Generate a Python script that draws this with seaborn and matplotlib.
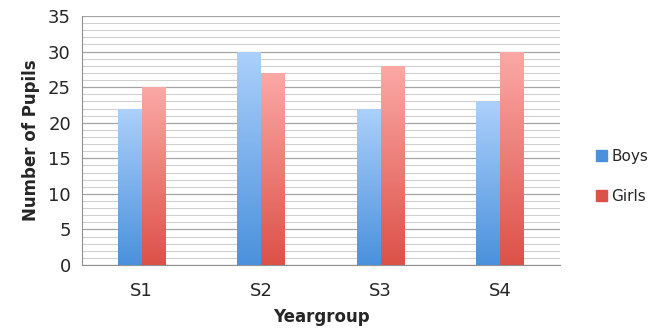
import matplotlib
matplotlib.use('Agg')
import matplotlib.pyplot as plt
import matplotlib.colors as mcolors
import matplotlib.patches as mpatches
import seaborn as sns
import pandas as pd
import numpy as np

# chart data
yeargroups = ['S1', 'S2', 'S3', 'S4']
boys = [22, 30, 22, 23]
girls = [25, 27, 28, 30]
y_ticks = [0, 5, 10, 15, 20, 25, 30, 35]

df = pd.DataFrame({'Yeargroup': yeargroups * 2,
                   'Pupils': boys + girls,
                   'Sex': ['Boys'] * len(boys) + ['Girls'] * len(girls)})

# gradient colours (top, bottom) per series
grad = {'Boys': ('#acd0fb', '#4a91dc'), 'Girls': ('#fba9a6', '#dc5148')}

sns.set_style('white')
fig = plt.figure(figsize=(6.58, 3.36), dpi=100)
ax = fig.add_axes([0.1246, 0.2113, 0.7264, 0.741])

sns.barplot(data=df, x='Yeargroup', y='Pupils', hue='Sex', order=yeargroups,
            hue_order=['Boys', 'Girls'], palette=[grad['Boys'][1], grad['Girls'][1]],
            width=0.40, ax=ax, legend=False, zorder=3)

ax.set_ylim(0, 35)
ax.set_yticks(y_ticks)
ax.set_yticks(np.arange(0, 36, 1), minor=True)
ax.yaxis.grid(True, which='major', color='#a4a4a4', lw=0.9, zorder=0)
ax.yaxis.grid(True, which='minor', color='#d0d0d0', lw=0.8, zorder=0)
ax.set_axisbelow(True)

# paint a vertical gradient on each bar
for cont, name in zip(ax.containers, ['Boys', 'Girls']):
    cmap = mcolors.LinearSegmentedColormap.from_list(name, [grad[name][1], grad[name][0]])
    for p in cont.patches:
        x0, y0 = p.get_x(), p.get_y()
        w, h = p.get_width(), p.get_height()
        img = ax.imshow(np.linspace(0, 1, 256).reshape(-1, 1), cmap=cmap, aspect='auto',
                        origin='lower', extent=[x0, x0 + w, y0, y0 + h], zorder=4)
        img.set_clip_path(p)
        p.set_alpha(0)

ax.set_xlim(-0.5, 3.5)
ax.set_ylim(0, 35)

for s in ['top', 'right']:
    ax.spines[s].set_visible(False)
ax.spines['left'].set_color('#909090')
ax.spines['bottom'].set_color('#909090')
ax.tick_params(axis='y', which='both', length=0, labelsize=13, pad=8)
ax.tick_params(axis='x', length=0, labelsize=13, pad=12)

ax.set_xlabel('Yeargroup', fontsize=12, fontweight='bold', labelpad=6)
ax.set_ylabel('Number of Pupils', fontsize=12, fontweight='bold', labelpad=6)

handles = [mpatches.Patch(color=grad['Boys'][1], label='Boys'),
           mpatches.Patch(color=grad['Girls'][1], label='Girls')]
fig.legend(handles=handles, loc='center left', bbox_to_anchor=(0.885, 0.475),
           frameon=False, fontsize=11, handlelength=0.7, handleheight=0.7,
           handletextpad=0.3, labelspacing=1.6)

fig.savefig('out.png', dpi=100)
